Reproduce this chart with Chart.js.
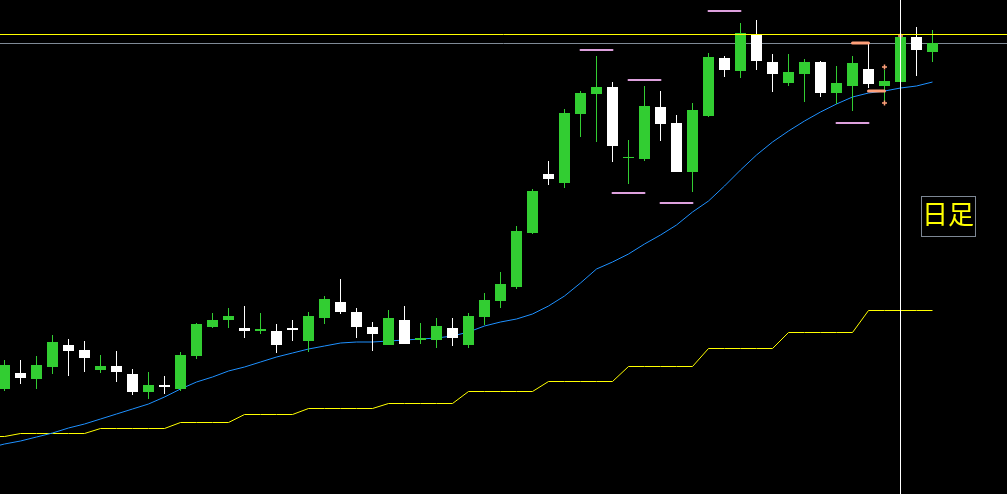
<!DOCTYPE html>
<html><head><meta charset="utf-8">
<script src="https://cdn.jsdelivr.net/npm/chart.js@4/dist/chart.umd.min.js"></script>
<style>
html,body{margin:0;padding:0;background:#000;overflow:hidden}
#wrap{position:relative;width:1007px;height:494px;background:#000}
#c{display:block}
#tag{position:absolute;left:921px;top:196px;width:55px;height:41px;box-sizing:border-box;border:1px solid #7d8794;color:#ffff00;font-size:26px;line-height:32px;font-family:"Noto Sans CJK JP",sans-serif;white-space:nowrap;padding:0;letter-spacing:0}
</style></head><body>
<div id="wrap"><canvas id="c" width="1007" height="494"></canvas><div id="tag">日足</div></div>
<script>
// ---- data (daily candles, index 0..58) ----
const candleIndex = [0,1,2,3,4,5,6,7,8,9,10,11,12,13,14,15,16,17,18,19,20,21,22,23,24,25,26,27,28,29,30,31,32,33,34,35,36,37,38,39,40,41,42,43,44,45,46,47,48,49,50,51,52,53,54,55,56,57,58];
const opens  = [105,121,115,127,149,144,124,128,120,102,109,105,138,167,174,166,163,163,166,153,176,192,182,167,149,174,154,154,166,149,177,193,207,261,320,311,380,400,407,336,335,387,371,322,378,436,423,459,432,411,420,432,401,408,425,408,412,457,442];
const highs  = [134,134,138,159,155,153,139,143,125,122,118,142,171,181,186,188,181,170,174,182,198,215,186,172,184,188,171,176,176,181,201,222,268,305,333,385,403,438,412,354,408,403,379,391,441,438,471,474,440,440,435,433,428,438,452,424,459,467,464];
const lows   = [103,110,105,120,118,122,121,112,99,95,100,103,135,166,166,156,160,141,153,142,170,180,156,143,149,150,150,146,148,146,169,186,205,260,309,306,357,352,332,310,333,353,322,302,377,417,416,424,402,408,392,397,390,383,406,391,412,418,432];
const closes = [129,116,129,152,143,136,128,122,102,109,107,139,170,174,178,163,165,149,164,178,195,182,167,160,176,150,156,168,156,178,194,210,263,303,315,381,401,407,348,337,388,370,322,384,437,424,461,433,420,422,432,401,411,431,410,413,457,444,451];

// indicator lines: values start at index -1 (one bar before the view)
const lineStart = -1;
const maValues = [46,50,53,57,61,66,70,75,80,85,90,97,105,112,117,123,127,132,137,141,145,148,151,152,152,153,154,155,156,158,162,168,172,175,180,188,198,211,225,232,240,250,259,269,282,293,308,324,339,352,363,373,382,390,397,401,403,406,408,412];
const stepValues = [57.5,57.5,60.5,60.5,60.5,60.5,60.5,65.5,65.5,65.5,65.5,65.5,71.5,71.5,71.5,71.5,79.5,79.5,79.5,79.5,85.5,85.5,85.5,85.5,85.5,90.5,90.5,90.5,90.5,90.5,102.5,102.5,102.5,102.5,102.5,112.5,112.5,112.5,112.5,112.5,127.5,127.5,127.5,127.5,127.5,145.5,145.5,145.5,145.5,145.5,161.5,161.5,161.5,161.5,161.5,183.5,183.5,183.5,183.5,183.5];

// horizontal price levels
const levelYellow = 459.5;
const levelGray = 450.5;
// cursor bar
const cursorIndex = 56;

// marker levels
const peakMarks = [{i:37,v:444},{i:40,v:414},{i:45,v:483},{i:39,v:301},{i:42,v:291},{i:53,v:371}];
const salmonDashes = [{i:53.5,v:451},{i:54.5,v:403}];
const salmonCrosses = [{i:55,v:427},{i:55,v:391},{i:56,v:458}];

// ---- style ----
const UP = '#32cd32', DOWN = '#ffffff';
const X_MIN = -0.28125, X_MAX = 62.65625, Y_MIN = 0, Y_MAX = 494;

const bodies = candleIndex.map((k,i)=>({x:k, y:[opens[i], closes[i]]}));
const wicks  = candleIndex.map((k,i)=>({x:k, y:[lows[i], highs[i]]}));
const colors = candleIndex.map((k,i)=> closes[i] >= opens[i] ? UP : DOWN);
const maData = maValues.map((v,j)=>({x:lineStart+j, y:v}));
const stepData = stepValues.map((v,j)=>({x:lineStart+j, y:v}));

function dashes(list, hw){
  const out=[];
  list.forEach(m=>{ out.push({x:m.i-hw,y:m.v},{x:m.i+hw,y:m.v},{x:m.i+hw+0.001,y:null}); });
  return out;
}

const lineBase = {type:'line', pointRadius:0, tension:0, fill:false, borderWidth:1};

new Chart(document.getElementById('c'), {
  type:'bar',
  data:{ datasets:[
    {...lineBase, data:[{x:cursorIndex,y:Y_MIN},{x:cursorIndex,y:Y_MAX}], borderColor:'#ffffff'},
    {type:'line', showLine:false, data:salmonCrosses.map(m=>({x:m.i,y:m.v})), pointStyle:'cross', pointRadius:2.5, pointBorderWidth:1.5, borderColor:'#ffa07a', backgroundColor:'#ffa07a'},
    {...lineBase, data:dashes(salmonDashes,0.5), borderColor:'#ffa07a', borderWidth:3, borderCapStyle:'round', spanGaps:false},
    {...lineBase, data:dashes(peakMarks,1.0), borderColor:'#dda0dd', borderWidth:2, borderCapStyle:'round', spanGaps:false},
    {...lineBase, data:[{x:X_MIN,y:levelYellow},{x:X_MAX,y:levelYellow}], borderColor:'#ffff00'},
    {data:bodies, backgroundColor:colors, borderWidth:0, grouped:false, barThickness:11, maxBarThickness:11, inflateAmount:0, minBarLength:1},
    {data:wicks, backgroundColor:colors, borderWidth:0, grouped:false, barThickness:1, maxBarThickness:1, inflateAmount:0},
    {...lineBase, data:maData, borderColor:'#1e90ff'},
    {...lineBase, data:stepData, borderColor:'#ffff00'},
    {...lineBase, data:[{x:X_MIN,y:levelGray},{x:X_MAX,y:levelGray}], borderColor:'#7f8a96'}
  ]},
  options:{
    responsive:false, animation:false, devicePixelRatio:1, events:[],
    layout:{padding:0, autoPadding:false},
    plugins:{legend:{display:false}, tooltip:{enabled:false}},
    scales:{
      x:{type:'linear', min:X_MIN, max:X_MAX, display:false, offset:false, grid:{display:false}},
      y:{type:'linear', min:Y_MIN, max:Y_MAX, display:false, grid:{display:false}}
    }
  }
});
</script>
</body></html>
